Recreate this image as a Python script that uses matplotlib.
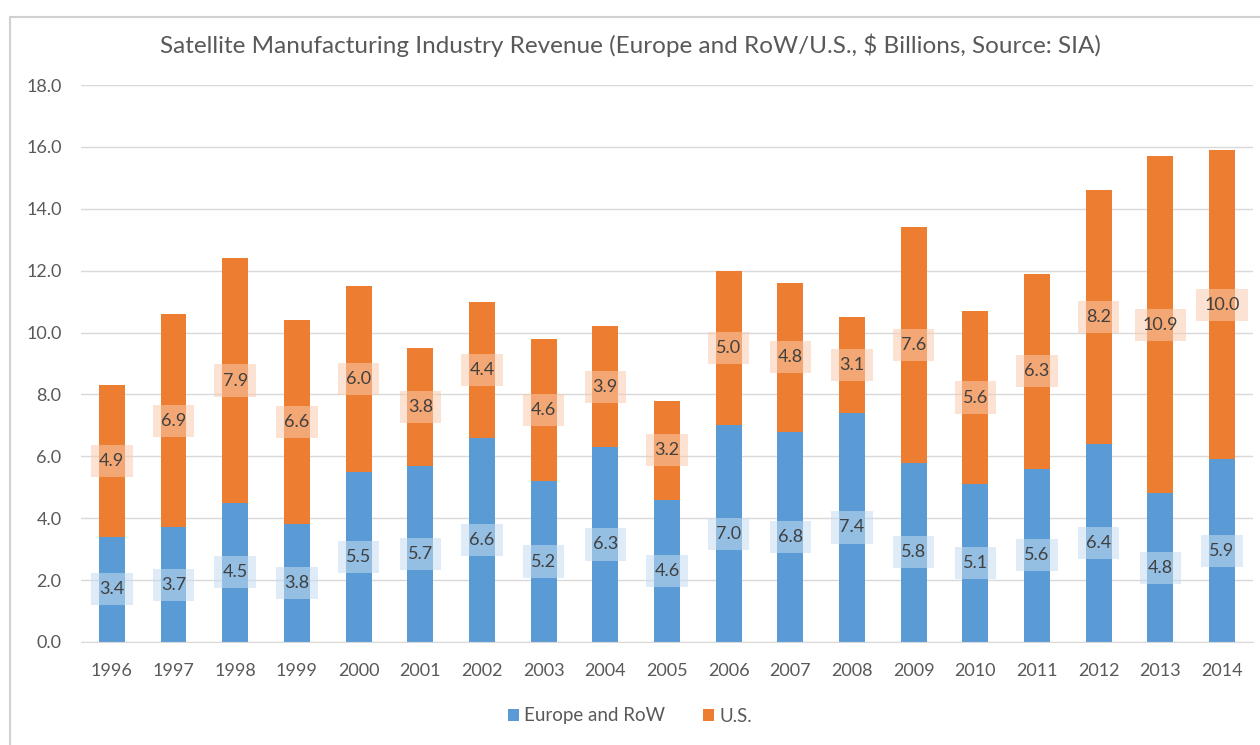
import numpy as np
import matplotlib.pyplot as plt
from matplotlib.patches import Rectangle

years = ['1996', '1997', '1998', '1999', '2000', '2001', '2002', '2003', '2004', '2005',
         '2006', '2007', '2008', '2009', '2010', '2011', '2012', '2013', '2014']
europe_row = [3.4, 3.7, 4.5, 3.8, 5.5, 5.7, 6.6, 5.2, 6.3, 4.6,
              7.0, 6.8, 7.4, 5.8, 5.1, 5.6, 6.4, 4.8, 5.9]
us = [4.9, 6.9, 7.9, 6.6, 6.0, 3.8, 4.4, 4.6, 3.9, 3.2,
      5.0, 4.8, 3.1, 7.6, 5.6, 6.3, 8.2, 10.9, 10.0]
yticks = [0, 2, 4, 6, 8, 10, 12, 14, 16, 18]

blue = '#5b9bd5'
orange = '#ed7d31'
txt = '#595959'

plt.rcParams['font.family'] = ['Lato', 'DejaVu Sans']

fig = plt.figure(figsize=(12.6, 7.45), dpi=100)
ax = fig.add_axes([0.0643, 0.1383, 0.9301, 0.7476])

# chart area border (cut off at right and bottom)
fig.patches.append(Rectangle((10 / 1260, -0.1), 1.2, (745 - 17) / 745 + 0.1,
                             transform=fig.transFigure, fill=False,
                             edgecolor='#d0d0d0', linewidth=1.5))

x = np.arange(len(years))
w = 0.42
b1 = ax.bar(x, europe_row, w, color=blue, label='Europe and RoW', zorder=2)
b2 = ax.bar(x, us, w, bottom=europe_row, color=orange, label='U.S.', zorder=2)

# data labels centred in each segment, on tinted see-through boxes
for i in range(len(years)):
    ax.text(x[i], europe_row[i] / 2, f'{europe_row[i]:.1f}', ha='center', va='center',
            fontsize=13, color='#404040', zorder=3,
            bbox=dict(boxstyle='square,pad=0.45', facecolor='#c5dcf0', alpha=0.55,
                      edgecolor='none'))
    ax.text(x[i], europe_row[i] + us[i] / 2, f'{us[i]:.1f}', ha='center', va='center',
            fontsize=13, color='#404040', zorder=3,
            bbox=dict(boxstyle='square,pad=0.45', facecolor='#f8cbad', alpha=0.55,
                      edgecolor='none'))

ax.set_xlim(-0.5, len(years) - 0.5)
ax.set_ylim(0, 18)
ax.set_yticks(yticks)
ax.set_yticklabels([f'{v:.1f}' for v in yticks])
ax.set_xticks(x)
ax.set_xticklabels(years)
ax.tick_params(axis='both', length=0, labelsize=13, colors=txt)
ax.tick_params(axis='x', pad=15)
ax.tick_params(axis='y', pad=14)
ax.grid(axis='y', color='#d9d9d9', linewidth=1, zorder=0)
ax.set_axisbelow(True)
for s in ['top', 'right', 'left']:
    ax.spines[s].set_visible(False)
ax.spines['bottom'].set_color('#d9d9d9')

fig.text(0.5, (745 - 45) / 745, 'Satellite Manufacturing Industry Revenue (Europe and RoW/U.S., $ Billions, Source: SIA)',
         ha='center', va='center', fontsize=17.5, color=txt)

fig.legend(handles=[b1, b2], loc='center', bbox_to_anchor=(0.5, (745 - 716) / 745),
           ncol=2, frameon=False, fontsize=13.5, handlelength=0.6, handleheight=0.6,
           handletextpad=0.3, columnspacing=2.0, labelcolor=txt)

fig.savefig('out.png', dpi=100)
